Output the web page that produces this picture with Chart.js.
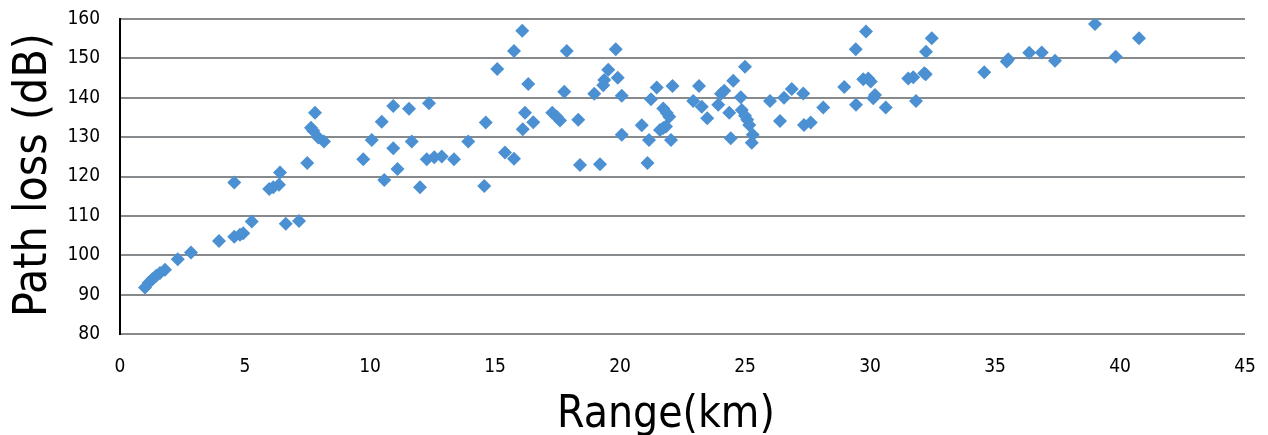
<!DOCTYPE html>
<html>
<head>
<meta charset="utf-8">
<title>Path loss vs range</title>
<script src="https://cdn.jsdelivr.net/npm/chart.js@4/dist/chart.umd.min.js"></script>
<style>
	html, body { margin: 0; padding: 0; background: #ffffff; }
	#wrap { width: 1268px; height: 435px; }
</style>
</head>
<body>
<div id="wrap"><canvas id="chart-area" width="1268" height="435"></canvas></div>
<script>
/*
 * 测量数据：距离 (km) 与路径损耗 (dB)。
 */
var rangeKm = [
	1.0, 1.15, 1.3, 1.45, 1.6, 1.8, 2.31, 2.84, 3.96, 4.57,
	4.8, 4.93, 5.27, 4.57, 5.97, 6.13, 6.36, 6.4, 6.63, 7.16,
	7.49, 7.8, 7.64, 7.73, 7.93, 8.16, 9.73, 10.07, 10.57, 10.47,
	10.93, 10.93, 11.1, 11.56, 11.67, 12.0, 12.36, 12.27, 12.57, 12.87,
	13.36, 13.93, 14.57, 14.63, 15.09, 15.4, 15.76, 15.76, 16.09, 16.33,
	16.2, 16.11, 16.53, 17.29, 17.47, 17.6, 17.87, 17.77, 18.33, 18.4,
	19.2, 18.97, 19.33, 19.37, 19.53, 19.83, 19.91, 20.07, 20.07, 20.87,
	21.1, 21.24, 21.47, 21.16, 21.73, 21.87, 21.97, 21.6, 21.73, 21.84,
	22.04, 22.1, 22.93, 23.16, 23.27, 23.49, 23.93, 24.04, 24.17, 24.37,
	24.43, 24.53, 24.83, 25.0, 24.87, 25.0, 25.09, 25.17, 25.31, 25.27,
	26.0, 26.4, 26.56, 26.87, 27.33, 27.36, 27.63, 28.13, 28.97, 29.44,
	29.43, 29.84, 29.73, 29.93, 30.03, 30.2, 30.13, 30.63, 31.53, 31.73,
	32.17, 32.23, 31.84, 32.24, 32.47, 34.57, 35.47, 35.53, 36.37, 36.87,
	37.4, 39.0, 39.83, 40.76
];
var pathLossDb = [
	91.8, 93.0, 94.0, 94.8, 95.5, 96.3, 99.0, 100.7, 103.6, 104.7,
	105.2, 105.6, 108.6, 118.5, 116.8, 117.3, 117.9, 121.0, 108.0, 108.7,
	123.4, 136.2, 132.4, 131.6, 129.9, 128.9, 124.4, 129.3, 119.1, 133.9,
	137.9, 127.2, 121.9, 137.2, 128.9, 117.3, 138.6, 124.4, 124.9, 125.1,
	124.4, 128.9, 117.6, 133.7, 147.3, 126.1, 124.5, 151.9, 157.0, 143.5,
	136.2, 132.0, 133.8, 136.2, 135.2, 134.2, 151.9, 141.5, 134.4, 122.9,
	123.1, 141.0, 143.2, 144.5, 147.1, 152.3, 145.1, 140.5, 130.6, 133.0,
	123.4, 139.6, 142.6, 129.3, 137.3, 136.1, 135.2, 131.8, 132.3, 132.7,
	129.3, 143.0, 139.2, 143.0, 137.7, 134.8, 138.2, 141.0, 141.8, 136.2,
	129.7, 144.3, 140.1, 147.9, 136.9, 135.4, 134.4, 133.1, 130.6, 128.6,
	139.2, 134.1, 140.0, 142.2, 141.1, 133.1, 133.7, 137.5, 142.7, 138.2,
	152.3, 156.8, 144.7, 144.9, 144.1, 140.7, 139.9, 137.5, 144.9, 145.2,
	146.2, 146.0, 139.2, 151.7, 155.1, 146.5, 149.2, 149.8, 151.4, 151.5,
	149.4, 158.7, 150.4, 155.1
];

/*
 * 坐标轴刻度与标题。
 */
var xTicks = [0, 5, 10, 15, 20, 25, 30, 35, 40, 45];
var yTicks = [80, 90, 100, 110, 120, 130, 140, 150, 160];
var xTitle = 'Range(km)';
var yTitle = 'Path loss (dB)';

var points = [];
for (var i = 0; i < rangeKm.length; i++) {
	points.push({ x : rangeKm[i], y : pathLossDb[i] });
}

var tickFont = { family : "'DejaVu Sans Condensed', 'DejaVu Sans', sans-serif", size : 19 };
var fontFamily = "'DejaVu Sans Condensed', 'DejaVu Sans', sans-serif";

/*
 * 轴标题：原图中的位置略偏离图区中心，所以自己画。
 */
var axisTitles = {
	id : 'axisTitles',
	afterDraw : function(chart) {
		var ctx = chart.ctx;
		ctx.save();
		ctx.fillStyle = '#000000';
		ctx.textAlign = 'center';
		ctx.textBaseline = 'alphabetic';
		ctx.font = "44px " + fontFamily;
		ctx.fillText(xTitle, 666, 427);
		ctx.font = "46px " + fontFamily;
		ctx.translate(46, 175);
		ctx.rotate(-Math.PI / 2);
		ctx.fillText(yTitle, 0, 0);
		ctx.restore();
	}
};

function noPadding(scale) {
	scale.paddingLeft = 0;
	scale.paddingRight = 0;
	scale.paddingTop = 0;
	scale.paddingBottom = 0;
}

var config = {
	type : 'scatter',
	data : {
		datasets : [ {
			data : points,
			pointStyle : 'rectRot',
			pointRadius : 7,
			pointBorderWidth : 0,
			backgroundColor : '#4a90d2',
			borderColor : '#4a90d2'
		} ]
	},
	options : {
		responsive : false,
		animation : false,
		layout : {
			padding : { left : 0, right : 23, top : 19, bottom : 0 }
		},
		plugins : {
			legend : { display : false },
			tooltip : { enabled : false }
		},
		scales : {
			x : {
				type : 'linear',
				min : xTicks[0],
				max : xTicks[xTicks.length - 1],
				afterBuildTicks : function(scale) {
					scale.ticks = xTicks.map(function(v) { return { value : v }; });
				},
				afterFit : function(scale) {
					scale.height = 101;
					noPadding(scale);
				},
				grid : { display : false, drawTicks : false },
				border : { display : false },
				ticks : { color : '#000000', font : tickFont, padding : 22, maxRotation : 0 }
			},
			y : {
				type : 'linear',
				min : yTicks[0],
				max : yTicks[yTicks.length - 1],
				afterBuildTicks : function(scale) {
					scale.ticks = yTicks.map(function(v) { return { value : v }; });
				},
				afterFit : function(scale) {
					scale.width = 120;
					noPadding(scale);
				},
				grid : { color : '#868a8d', lineWidth : 2, drawTicks : false },
				border : { display : true, color : '#000000', width : 2 },
				ticks : { color : '#000000', font : tickFont, padding : 20 }
			}
		}
	},
	plugins : [ axisTitles ]
};

window.onload = function() {
	var ctx = document.getElementById('chart-area').getContext('2d');
	window.myScatter = new Chart(ctx, config);
};
</script>
</body>
</html>
